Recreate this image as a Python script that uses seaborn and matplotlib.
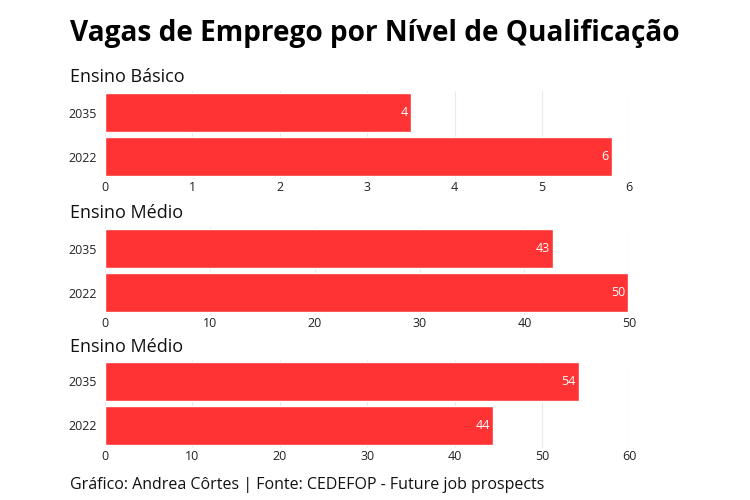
import pandas as pd
import matplotlib.pyplot as plt
import seaborn as sns

# dados
anos = ['2035', '2022']
paineis = ['Ensino Básico', 'Ensino Médio', 'Ensino Médio']
basico = [3.5, 5.8]
medio = [42.7, 49.9]
superior = [54.2, 44.4]
rotulos = [['4', '6'], ['43', '50'], ['54', '44']]
xmax = [6, 50, 60]
passos = [1, 10, 10]

sns.set_theme(style='whitegrid')
plt.rcParams['font.family'] = ['Open Sans', 'DejaVu Sans']

fig = plt.figure(figsize=(7.5, 5), dpi=100)

vermelho = '#FF3333'
posicoes = [0.643, 0.371, 0.105]
valores = [basico, medio, superior]

for i, (nome, vals) in enumerate(zip(paineis, valores)):
    ax = fig.add_axes([0.14, posicoes[i], 0.699, 0.176])
    df = pd.DataFrame({'ano': anos, 'vagas': vals})
    sns.barplot(data=df, y='ano', x='vagas', color=vermelho, width=0.9,
                saturation=1, ax=ax, orient='h')
    ax.set_xlim(0, xmax[i])
    ax.set_xticks(range(0, xmax[i] + 1, passos[i]))
    ax.set_xlabel('')
    ax.set_ylabel('')
    ax.grid(axis='x', color='#ebebeb', linewidth=0.8)
    ax.grid(axis='y', visible=False)
    for s in ax.spines.values():
        s.set_visible(False)
    ax.tick_params(axis='both', labelsize=9, colors='#222222', length=0)
    ax.tick_params(axis='y', pad=6)
    ax.tick_params(axis='x', pad=2)
    for j, v in enumerate(vals):
        ax.text(v - xmax[i] * 0.006, j, rotulos[i][j], color='white',
                ha='right', va='center', fontsize=9)
    fig.text(70 / 750, posicoes[i] + 0.176 + 0.026, nome, fontsize=13,
             ha='left', va='center', color='#111111')

fig.text(70 / 750, 1 - 33 / 500, 'Vagas de Emprego por Nível de Qualificação',
         fontsize=20.2, fontweight='bold', ha='left', va='center', color='black')
fig.text(70 / 750, 1 - 485 / 500,
         'Gráfico: Andrea Côrtes | Fonte: CEDEFOP - Future job prospects',
         fontsize=11.5, ha='left', va='center', color='#111111')

fig.savefig('out.png', dpi=100)
